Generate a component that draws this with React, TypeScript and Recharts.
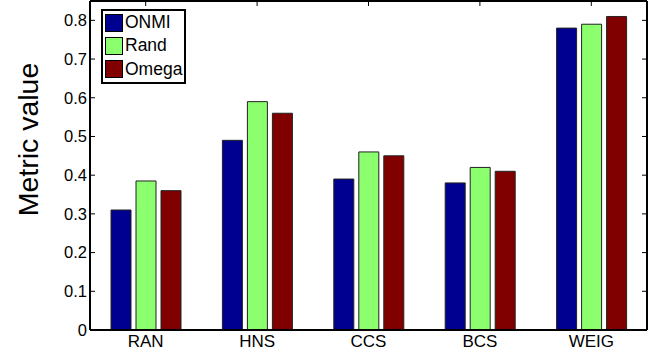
import { Bar, BarChart, XAxis, YAxis } from "recharts";

const categories = ["RAN", "HNS", "CCS", "BCS", "WEIG"];
const onmi = [0.31, 0.49, 0.39, 0.38, 0.78];
const rand = [0.385, 0.59, 0.46, 0.42, 0.79];
const omega = [0.36, 0.56, 0.45, 0.41, 0.81];
const yTicks = [0, 0.1, 0.2, 0.3, 0.4, 0.5, 0.6, 0.7, 0.8];

const series = [
  { key: "onmi", label: "ONMI", color: "#000090" },
  { key: "rand", label: "Rand", color: "#8CFF6E" },
  { key: "omega", label: "Omega", color: "#800000" },
];

const FONT = "'Liberation Sans', Arial, Helvetica, sans-serif";

function LegendBox() {
  return (
    <div
      style={{
        position: "absolute",
        left: 101,
        top: 9,
        border: "2px solid #000",
        background: "#fff",
        padding: "0px 2px 1px 2px",
        fontFamily: FONT,
        fontSize: 17.5,
        lineHeight: "23px",
        color: "#000",
      }}
    >
      {series.map((s) => (
        <div key={s.key} style={{ display: "flex", alignItems: "center", height: 23.3 }}>
          <span
            style={{
              display: "inline-block",
              width: 18,
              height: 18,
              background: s.color,
              border: "1px solid #000",
              marginRight: 2,
              boxSizing: "border-box",
            }}
          />
          {s.label}
        </div>
      ))}
    </div>
  );
}

export default function App() {
  const data = categories.map((name, i) => ({
    name,
    onmi: onmi[i],
    rand: rand[i],
    omega: omega[i],
  }));

  return (
    <div style={{ position: "absolute", left: 0, top: 0, width: 667, height: 355, background: "#fff" }}>
      <BarChart
        width={667}
        height={355}
        data={data}
        margin={{ top: 0, right: 19, bottom: 0, left: 0 }}
        barSize={20}
        barGap={5}
      >
        <XAxis
          dataKey="name"
          xAxisId="bottom"
          height={25}
          tickLine={false}
          tickSize={0}
          tickMargin={5}
          axisLine={{ stroke: "#000", strokeWidth: 2 }}
          tick={{ fill: "#000", fontSize: 17, fontFamily: FONT }}
        />
        <XAxis
          dataKey="name"
          xAxisId="top"
          orientation="top"
          height={1}
          tickSize={-5}
          tickFormatter={() => ""}
          tickLine={{ stroke: "#000", strokeWidth: 1 }}
          axisLine={{ stroke: "#000", strokeWidth: 2 }}
        />
        <YAxis
          yAxisId="left"
          width={90}
          domain={[0, 0.85]}
          ticks={yTicks}
          tickSize={-5}
          tickMargin={8}
          interval={0}
          tickFormatter={(v: number) => (v === 0 ? "0" : String(v))}
          tickLine={{ stroke: "#000", strokeWidth: 1 }}
          axisLine={{ stroke: "#000", strokeWidth: 2 }}
          tick={{ fill: "#000", fontSize: 16.5, fontFamily: FONT }}
          label={{
            content: () => (
              <text
                x={38}
                y={139.5}
                transform="rotate(-90 38 139.5)"
                textAnchor="middle"
                fontSize={28.5}
                fontFamily={FONT}
                fill="#000"
              >
                Metric value
              </text>
            ),
          }}
        />
        <YAxis
          yAxisId="right"
          orientation="right"
          width={1}
          domain={[0, 0.85]}
          ticks={yTicks}
          interval={0}
          tickSize={-5}
          tickFormatter={() => ""}
          tickLine={{ stroke: "#000", strokeWidth: 1 }}
          axisLine={{ stroke: "#000", strokeWidth: 2 }}
        />
        {series.map((s) => (
          <Bar
            key={s.key}
            dataKey={s.key}
            name={s.label}
            xAxisId="bottom"
            yAxisId="left"
            fill={s.color}
            stroke="#222"
            strokeWidth={1}
            isAnimationActive={false}
          />
        ))}
        {/* invisible series so the top and right frame axes get drawn */}
        <Bar
          dataKey="omega"
          xAxisId="top"
          yAxisId="right"
          fill="none"
          fillOpacity={0}
          stroke="none"
          legendType="none"
          isAnimationActive={false}
        />
      </BarChart>
      <LegendBox />
    </div>
  );
}
